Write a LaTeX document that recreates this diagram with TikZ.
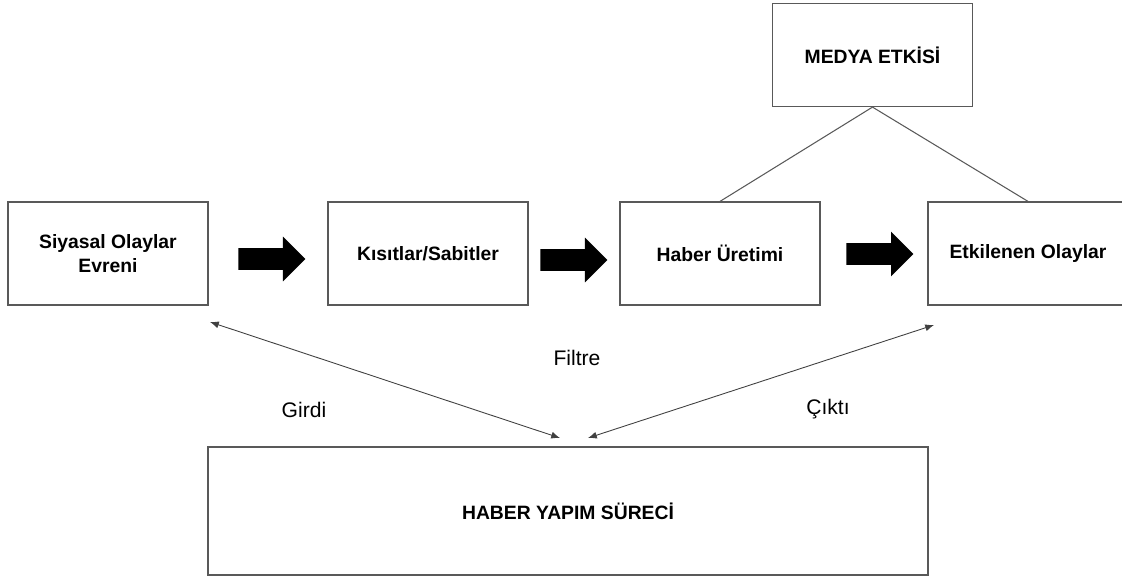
\documentclass[tikz,border=0pt]{standalone}
\usepackage{fontspec}
\setmainfont{Liberation Sans}
\usetikzlibrary{shapes.arrows, arrows.meta}

\begin{document}
\begin{tikzpicture}[
    x=0.02cm, y=-0.02cm,
    box/.style={draw=black!65, line width=0.7pt, minimum width=4cm, minimum height=2.06cm, inner sep=2pt, align=center, font=\bfseries\fontsize{11}{13.5}\selectfont},
    bigbox/.style={box, minimum width=14.4cm, minimum height=2.56cm},
    blockarrow/.style={single arrow, fill=black, draw=none, minimum height=1.34cm, inner xsep=0pt, inner ysep=0.21cm, single arrow head extend=0.23cm, anchor=tail},
    link/.style={{Latex[length=5pt,width=4pt]}-{Latex[length=5pt,width=4pt]}, draw=black!75, line width=0.5pt},
    tie/.style={draw=black!65, line width=0.6pt},
    lbl/.style={font=\fontsize{12}{14}\selectfont}
]
    \clip (0,0) rectangle (1122,577);
    \node[box] (medya) at (872.5, 55) {MEDYA ETKİSİ};
    \node[box] (evren) at (108, 253.5) {Siyasal Olaylar\\Evreni};
    \node[box] (kisit) at (428, 253.5) {Kısıtlar/Sabitler};
    \node[box] (uretim) at (720, 253.5) {Haber Üretimi};
    \node[box] (etki) at (1028, 253.5) {Etkilenen Olaylar};
    \node[bigbox] (surec) at (568, 511) {HABER YAPIM SÜRECİ};
    \node[blockarrow] (a1) at (238, 259) {};
    \node[blockarrow] (a2) at (540, 260) {};
    \node[blockarrow] (a3) at (846, 254) {};
    \coordinate (girdiA) at (210, 322);
    \coordinate (girdiB) at (560, 438);
    \coordinate (ciktiA) at (588, 438);
    \coordinate (ciktiB) at (934, 325);
    \draw[tie] (medya.south) -- (uretim.north);
    \draw[tie] (medya.south) -- (etki.north);
    \draw[link] (girdiA) -- (girdiB);
    \draw[link] (ciktiA) -- (ciktiB);
    \node[lbl] (girdi) at (304, 410) {Girdi};
    \node[lbl] (filtre) at (577, 358) {Filtre};
    \node[lbl] (cikti) at (828, 409) {Çıktı};
\end{tikzpicture}
\end{document}
